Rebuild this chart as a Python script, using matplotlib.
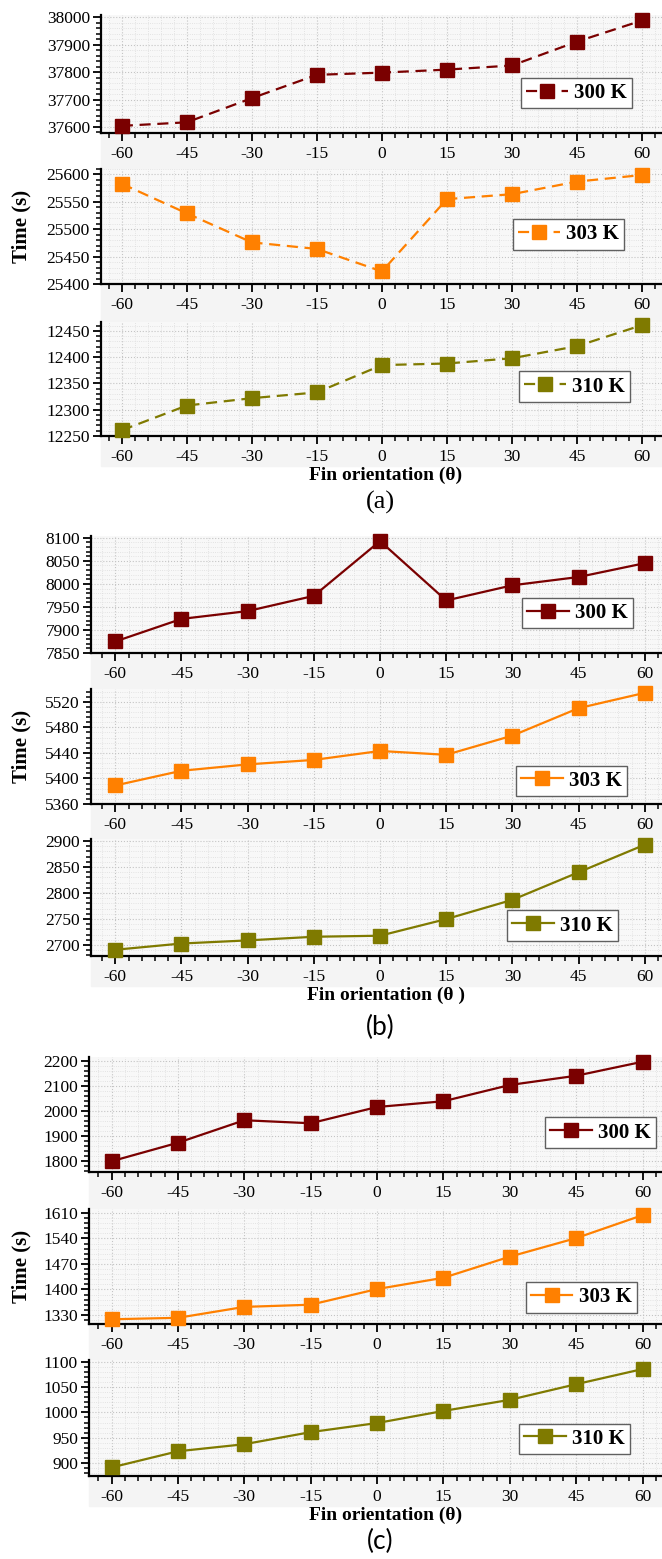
import numpy as np
import matplotlib
matplotlib.use('Agg')
import matplotlib.pyplot as plt
from matplotlib.ticker import MultipleLocator, AutoMinorLocator
from matplotlib.patches import Rectangle

plt.rcParams['font.family'] = ['Liberation Serif', 'DejaVu Serif']
plt.rcParams['axes.unicode_minus'] = False

theta = [-60, -45, -30, -15, 0, 15, 30, 45, 60]

# (a) dashed lines
a_300 = [37604, 37617, 37705, 37790, 37798, 37809, 37824, 37911, 37988]
a_303 = [25583, 25529, 25476, 25464, 25423, 25555, 25564, 25587, 25599]
a_310 = [12261, 12308, 12322, 12333, 12385, 12388, 12398, 12421, 12461]
# (b)
b_300 = [7875, 7924, 7941, 7974, 8093, 7964, 7997, 8015, 8045]
b_303 = [5389, 5412, 5422, 5429, 5443, 5437, 5467, 5510, 5534]
b_310 = [2691, 2703, 2709, 2716, 2718, 2750, 2787, 2840, 2893]
# (c)
c_300 = [1799, 1873, 1963, 1951, 2016, 2039, 2104, 2141, 2197]
c_303 = [1318, 1322, 1352, 1358, 1401, 1432, 1490, 1541, 1604]
c_310 = [891, 923, 937, 961, 979, 1003, 1025, 1056, 1086]

labels = ['300 K', '303 K', '310 K']
colors = ['#7a0000', '#ff8000', '#7f7a00']

W, H = 662, 1559
fig = plt.figure(figsize=(W/100, H/100), dpi=100)

# pixel layout of each group (top, bottom of every panel), limits, legend anchors
groups = [
    dict(left=101, xlim=(-64.8, 64.6), style='--',
         boxes=[(15, 133), (169, 284), (322, 436)],
         data=[a_300, a_303, a_310],
         ylims=[(37578, 38008), (25400, 25610), (12250, 12467)],
         ysteps=[100, 50, 50],
         leg=[(0.947, 0.21), (0.932, 0.30), (0.943, 0.30)],
         xlabel='Fin orientation (θ)', tag='(a)', tag_y=502,
         tag_font='Liberation Serif'),
    dict(left=91, xlim=(-65.5, 63.9), style='-',
         boxes=[(536, 653), (689, 804), (839, 956)],
         data=[b_300, b_303, b_310],
         ylims=[(7850, 8104), (5360, 5540), (2679, 2904)],
         ysteps=[50, 40, 50],
         leg=[(0.949, 0.21), (0.939, 0.07), (0.923, 0.13)],
         xlabel='Fin orientation (θ )', tag='(b)', tag_y=1027,
         tag_font='Lato'),
    dict(left=89, xlim=(-65.1, 64.4), style='-',
         boxes=[(1057, 1172), (1209, 1324), (1360, 1476)],
         data=[c_300, c_303, c_310],
         ylims=[(1756, 2216), (1305, 1621), (874, 1104)],
         ysteps=[100, 70, 50],
         leg=[(0.99, 0.21), (0.956, 0.10), (0.944, 0.19)],
         xlabel='Fin orientation (θ)', tag='(c)', tag_y=1541,
         tag_font='Lato'),
]

for g in groups:
    l = g['left']
    for i, (top, bot) in enumerate(g['boxes']):
        # light band under each panel behind the tick labels
        nxt = g['boxes'][i+1][0] if i < 2 else bot + 30
        fig.patches.append(Rectangle((l/W, 1 - nxt/H), 1 - l/W, (nxt - bot)/H,
                                     transform=fig.transFigure, color='#f4f4f4',
                                     zorder=-5))
        ax = fig.add_axes([l/W, 1 - bot/H, 1 - l/W, (bot - top)/H])
        ax.set_facecolor('#f8f8f8')
        ax.plot(theta, g['data'][i], g['style'], color=colors[i], lw=1.6,
                marker='s', ms=10, mfc=colors[i], mec=colors[i],
                dashes=(5, 3) if g['style'] == '--' else (None, None),
                label=labels[i], clip_on=False, zorder=3)
        ax.set_xlim(*g['xlim'])
        ax.set_ylim(*g['ylims'][i])
        ax.xaxis.set_major_locator(MultipleLocator(15))
        ax.xaxis.set_minor_locator(MultipleLocator(3))
        ax.yaxis.set_major_locator(MultipleLocator(g['ysteps'][i]))
        ax.yaxis.set_minor_locator(AutoMinorLocator(5))
        ax.grid(which='major', color='#c4c4c4', ls=':', lw=0.8)
        ax.grid(which='minor', color='#dcdcdc', ls=':', lw=0.6)
        ax.set_axisbelow(True)
        for s in ['top', 'right']:
            ax.spines[s].set_visible(False)
        for s in ['left', 'bottom']:
            ax.spines[s].set_linewidth(1.6)
        ax.tick_params(which='major', direction='out', length=6, width=1.3,
                       labelsize=12.5, pad=2)
        ax.tick_params(which='minor', direction='out', length=3.5, width=1.1)
        ax.tick_params(axis='x', which='major', pad=3.5)
        leg = ax.legend(loc='lower right', bbox_to_anchor=g['leg'][i],
                        fancybox=False, edgecolor='#606060', framealpha=1,
                        prop={'weight': 'bold', 'size': 15},
                        handlelength=2.0, handletextpad=0.3, borderpad=0.25,
                        borderaxespad=0, markerscale=1.0)
        leg.get_frame().set_linewidth(1.0)
        if i == 1:
            mid = (top + bot) / 2
            fig.text(21/W, 1 - mid/H, 'Time (s)', rotation=90, ha='center',
                     va='center', fontsize=15, fontweight='bold')
    last_bot = g['boxes'][2][1]
    fig.text(386/W, 1 - (last_bot + 39)/H, g['xlabel'],
             ha='center', va='center', fontsize=14, fontweight='bold')
    fig.text(380/W, 1 - g['tag_y']/H, g['tag'], ha='center', va='center',
             fontsize=19, family=[g['tag_font'], 'DejaVu Sans'])

fig.savefig('out.png', dpi=100)
